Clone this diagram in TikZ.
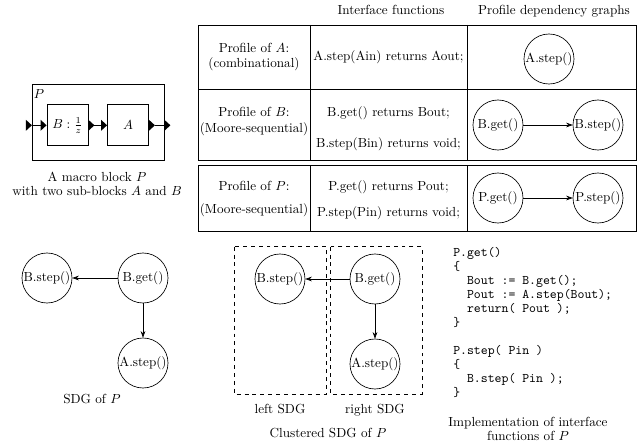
\documentclass[tikz,border=0pt]{standalone}
\usetikzlibrary{arrows.meta,calc}
\newcommand\mycodefont{\ttfamily\fontsize{10pt}{10.6pt}\selectfont\lineskiplimit=-10pt\relax}
\newcommand\mycapfont{\fontsize{10pt}{11pt}\selectfont}
\begin{document}
\begin{tikzpicture}[x=0.76pt,y=-0.76pt,
  tx/.style={inner sep=0pt, text height=7pt, text depth=2pt},
  blk/.style={draw, line width=0.6pt, minimum width=31.2pt, minimum height=31.2pt, inner sep=0pt},
  fn/.style={circle, draw, line width=0.5pt, minimum size=38pt, inner sep=0pt},
  dep/.style={-{Stealth[length=5pt,width=3.6pt]}, line width=0.5pt},
  tline/.style={line width=0.7pt},
  clus/.style={draw, dashed, line width=0.6pt},
  captxt/.style={inner sep=0pt, align=center, font=\mycapfont},
  codetxt/.style={inner sep=0pt, align=left, font=\mycodefont}
]
\useasboundingbox (0,0) rectangle (637,446);

% ---------- macro block ----------
\node[draw, line width=0.6pt, minimum width=100.1pt, minimum height=58.1pt, inner sep=0pt] (Pbox) at (98.15,122.5) {};
\node[tx] (plabel) at (39,95) {$P$};
\node[blk] (Bbox) at (67.5,125.3) {$B:\frac{1}{z}$};
\node[blk] (Abox) at (128,125.3) {$A$};
\coordinate (pin) at (Pbox.west |- Bbox.center);
\coordinate (pout) at (Pbox.east |- Abox.center);
\fill (pin) -- ++(-6,-5.5) -- ++(0,11) -- cycle;
\fill (Bbox.west) -- ++(-6,-5.5) -- ++(0,11) -- cycle;
\draw[line width=0.6pt] (pin) -- ($(Bbox.west)+(-6,0)$);
\fill (Bbox.east) ++(0,-5.5) -- ++(6,5.5) -- ++(-6,5.5) -- cycle;
\fill (Abox.west) -- ++(-6,-5.5) -- ++(0,11) -- cycle;
\draw[line width=0.6pt] ($(Bbox.east)+(6,0)$) -- ($(Abox.west)+(-6,0)$);
\fill (Abox.east) ++(0,-5.5) -- ++(6,5.5) -- ++(-6,5.5) -- cycle;
\fill (pout) ++(0,-5.5) -- ++(6,5.5) -- ++(-6,5.5) -- cycle;
\draw[line width=0.6pt] ($(Abox.east)+(6,0)$) -- (pout);
\node[captxt] (mcap) at (97,184) {A macro block $P$\\with two sub-blocks $A$ and $B$};

% ---------- table ----------
\node[tx] (h1) at (391,11) {Interface functions};
\node[tx] (h2) at (554,11) {Profile dependency graphs};
\draw[tline] (198,25) rectangle (636,160.5);
\draw[tline] (198,89) -- (636,89);
\draw[tline] (310,25) -- (310,160.5);
\draw[tline] (467.5,25) -- (467.5,160.5);
\draw[tline] (198,165) rectangle (636,231);
\draw[tline] (310,165) -- (310,231);
\draw[tline] (467.5,165) -- (467.5,231);

\node[tx] (pa1) at (254,49) {Profile of $A$:};
\node[tx] (pa2) at (254,64) {(combinational)};
\node[tx] (ia) at (388.5,57) {A.step(Ain) returns Aout;};
\node[fn] (gas) at (549,59) {A.step()};

\node[tx] (pb1) at (254,113) {Profile of $B$:};
\node[tx] (pb2) at (254,129) {(Moore-sequential)};
\node[tx] (ib1) at (388.5,113) {B.get() returns Bout;};
\node[tx] (ib2) at (388.5,144) {B.step(Bin) returns void;};
\node[fn] (gbg) at (498,125) {B.get()};
\node[fn] (gbs) at (598,125) {B.step()};
\draw[dep] (gbg) -- (gbs);

\node[tx] (pp1) at (254,187) {Profile of $P$:};
\node[tx] (pp2) at (254,210) {(Moore-sequential)};
\node[tx] (ip1) at (388.5,187) {P.get() returns Pout;};
\node[tx] (ip2) at (388.5,213) {P.step(Pin) returns void;};
\node[fn] (gpg) at (498,198) {P.get()};
\node[fn] (gps) at (598,198) {P.step()};
\draw[dep] (gpg) -- (gps);

% ---------- SDG of P ----------
\node[fn] (sbs) at (47,278) {B.step()};
\node[fn] (sbg) at (143,278) {B.get()};
\node[fn] (sas) at (143,363) {A.step()};
\draw[dep] (sbg) -- (sbs);
\draw[dep] (sbg) -- (sas);
\node[tx] (scap) at (92,400) {SDG of $P$};

% ---------- clustered SDG ----------
\draw[clus] (234,246.7) rectangle (326,394);
\draw[clus] (330.5,246.7) rectangle (422,394);
\node[fn] (cbs) at (280,279) {B.step()};
\node[fn] (cbg) at (375,279) {B.get()};
\node[fn] (cas) at (375,364) {A.step()};
\draw[dep] (cbg) -- (cbs);
\draw[dep] (cbg) -- (cas);
\node[tx] (lsdg) at (280,410) {left SDG};
\node[tx] (rsdg) at (375,410) {right SDG};
\node[tx] (ccap) at (328,434) {Clustered SDG of $P$};

% ---------- implementation ----------
\node[codetxt, anchor=north west] (impl) at (453,247.5) {P.get()\\
\{\\
\ \ Bout := B.get();\\
\ \ Pout := A.step(Bout);\\
\ \ return( Pout );\\
\}\\[10.6pt]
P.step( Pin )\\
\{\\
\ \ B.step( Pin );\\
\}};
\node[captxt] (icap) at (528,429) {Implementation of interface\\functions of $P$};
\end{tikzpicture}
\end{document}
